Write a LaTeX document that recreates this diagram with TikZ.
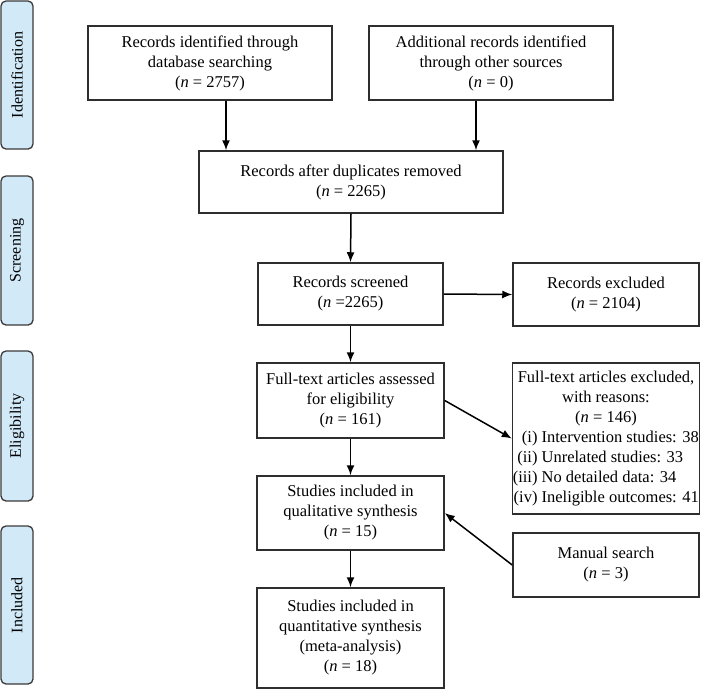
\documentclass[tikz,border=0pt]{standalone}
\usepackage{fontspec}
\setmainfont{Liberation Serif}
\usepackage{tikz}
\usetikzlibrary{arrows.meta}
\tikzset{>={Latex[length=10pt,width=8pt]}}
\definecolor{boxline}{HTML}{2E2E2E}
\definecolor{phasefill}{HTML}{D2E9F8}
\definecolor{phaseline}{HTML}{3A3A3A}
\newcommand{\boxfont}{\fontsize{16.5}{20}\selectfont}
\newcommand{\reason}[2]{\makebox[187pt][l]{\makebox[25pt][r]{#1} #2}}
\tikzset{
    box/.style={draw=boxline, line width=1.5pt, inner sep=0pt, align=center, font=\boxfont},
    phase/.style={draw=phaseline, fill=phasefill, line width=1.3pt, rounded corners=5pt, rotate=90,
        minimum height=32pt, inner sep=0pt, font=\fontsize{16}{19}\selectfont},
    flow/.style={->, line width=1.5pt}
}

\begin{document}
\begin{tikzpicture}[x=1pt, y=-1pt]
                \useasboundingbox (0, 0) rectangle (701, 689);
                \node[phase, minimum width=148pt] (ident) at (17, 75) {Identification};
                \node[phase, minimum width=149pt] (screen) at (17, 250.5) {Screening};
                \node[phase, minimum width=150pt] (elig) at (17, 426) {Eligibility};
                \node[phase, minimum width=158pt] (incl) at (17, 605) {Included};
                \node[box, minimum width=244pt, minimum height=74pt] (database) at (210, 63) {Records identified through\\database searching\\(\textit{n} = 2757)};
                \node[box, minimum width=244pt, minimum height=74pt] (other) at (491, 63) {Additional records identified\\through other sources\\(\textit{n} = 0)};
                \node[box, minimum width=304pt, minimum height=62pt] (dup) at (351, 182) {Records after duplicates removed\\(\textit{n} = 2265)};
                \node[box, minimum width=185pt, minimum height=62pt] (screened) at (350.5, 294) {Records screened\\(\textit{n} =2265)};
                \node[box, minimum width=186pt, minimum height=63pt] (excluded) at (606, 294.5) {Records excluded\\(\textit{n} = 2104)};
                \node[box, minimum width=187pt, minimum height=75pt] (fulltext) at (350.5, 400.5) {Full-text articles assessed\\for eligibility\\(\textit{n} = 161)};
                \node[box, minimum width=186pt, minimum height=151pt] (fullex) at (606, 438.5) {Full-text articles excluded,\\with reasons:\\(\textit{n} = 146)\\\reason{(i)}{Intervention studies: 38}\\\reason{(ii)}{Unrelated studies: 33}\\\reason{(iii)}{No detailed data: 34}\\\reason{(iv)}{Ineligible outcomes: 41}};
                \node[box, minimum width=187pt, minimum height=74pt] (quali) at (350.5, 513) {Studies included in\\qualitative synthesis\\(\textit{n} = 15)};
                \node[box, minimum width=186pt, minimum height=64pt] (manual) at (606, 565) {Manual search\\(\textit{n} = 3)};
                \node[box, minimum width=187pt, minimum height=100pt] (quanti) at (350.5, 638) {Studies included in\\quantitative synthesis\\(meta-analysis)\\(\textit{n} = 18)};
                \coordinate (dupL) at ([xshift=-125pt]dup.north);
                \coordinate (dupR) at ([xshift=125pt]dup.north);
                \draw[flow] (database.south -| dupL) -- (dupL);
                \draw[flow] (other.south -| dupR) -- (dupR);
                \draw[flow] (dup.south) -- (screened.north);
                \draw[flow] (screened.east) -- (excluded.west);
                \draw[flow] (screened.south) -- (fulltext.north);
                \draw[flow] (fulltext.east) -- (fullex.west);
                \draw[flow] (fulltext.south) -- (quali.north);
                \draw[flow] (manual.west) -- (quali.east);
                \draw[flow] (quali.south) -- (quanti.north);
            \end{tikzpicture}
\end{document}
